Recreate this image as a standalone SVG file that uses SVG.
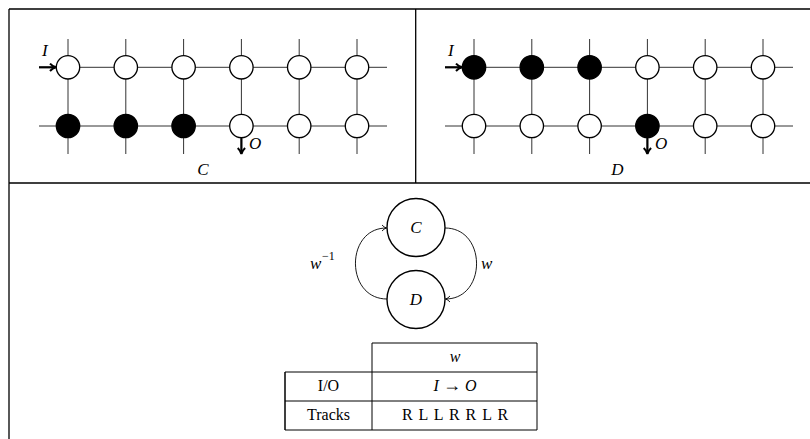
<svg xmlns="http://www.w3.org/2000/svg" width="810" height="439" viewBox="0 0 810 439">
<style>
.frame{stroke:#000;stroke-width:1.3;fill:none}
.grid{stroke:#333;stroke-width:1;fill:none}
.e{fill:#fff;stroke:#000;stroke-width:1.3}
.f{fill:#000;stroke:#000;stroke-width:1.3}
.arr{stroke:#000;stroke-width:2.2;fill:none}
.m{font-family:"Liberation Serif","DejaVu Serif",serif;font-style:italic;font-size:17px;fill:#000}
.t{font-family:"Liberation Serif","DejaVu Serif",serif;font-size:16px;fill:#000}
.big{fill:#fff;stroke:#000;stroke-width:1.4}
.edge{stroke:#000;stroke-width:0.9;fill:none}
</style>
<defs>
<marker id="ah" markerWidth="9" markerHeight="9" refX="6.5" refY="4.5" orient="auto" markerUnits="userSpaceOnUse">
<path d="M1,0.8 Q3.5,3.6 7,4.5 Q3.5,5.4 1,8.2" fill="none" stroke="#000" stroke-width="2"/>
</marker>
<marker id="sh" markerWidth="8" markerHeight="8" refX="6" refY="4" orient="auto" markerUnits="userSpaceOnUse">
<path d="M1.5,1 Q3.5,3.3 6,4 Q3.5,4.7 1.5,7" fill="none" stroke="#000" stroke-width="0.9"/>
</marker>
<g id="gridlines">
<path class="grid" d="M39,67.3H387M39,126H387M68,39V154M125.8,39V154M183.6,39V154M241.4,39V154M299.2,39V154M357,39V154"/>
</g>
</defs>
<g id="frame">
<path class="frame" d="M9,9H810M9,9V439M9,183H810M415.7,9V183"/>
</g>
<g id="panelC">
<use href="#gridlines"/>
<circle class="e" cx="68" cy="67.3" r="11.7"/>
<circle class="e" cx="125.8" cy="67.3" r="11.7"/>
<circle class="e" cx="183.6" cy="67.3" r="11.7"/>
<circle class="e" cx="241.4" cy="67.3" r="11.7"/>
<circle class="e" cx="299.2" cy="67.3" r="11.7"/>
<circle class="e" cx="357" cy="67.3" r="11.7"/>
<circle class="f" cx="68" cy="126" r="11.7"/>
<circle class="f" cx="125.8" cy="126" r="11.7"/>
<circle class="f" cx="183.6" cy="126" r="11.7"/>
<circle class="e" cx="241.4" cy="126" r="11.7"/>
<circle class="e" cx="299.2" cy="126" r="11.7"/>
<circle class="e" cx="357" cy="126" r="11.7"/>
<path class="arr" d="M39,67.3H55.5" marker-end="url(#ah)"/>
<text class="m" x="42" y="56">I</text>
<path class="arr" d="M241.4,138V153.5" marker-end="url(#ah)"/>
<text class="m" x="249" y="149">O</text>
<text class="m" x="203" y="175" text-anchor="middle">C</text>
</g>
<g id="panelD">
<use href="#gridlines" x="406"/>
<circle class="f" cx="474" cy="67.3" r="11.7"/>
<circle class="f" cx="531.8" cy="67.3" r="11.7"/>
<circle class="f" cx="589.6" cy="67.3" r="11.7"/>
<circle class="e" cx="647.4" cy="67.3" r="11.7"/>
<circle class="e" cx="705.2" cy="67.3" r="11.7"/>
<circle class="e" cx="763" cy="67.3" r="11.7"/>
<circle class="e" cx="474" cy="126" r="11.7"/>
<circle class="e" cx="531.8" cy="126" r="11.7"/>
<circle class="e" cx="589.6" cy="126" r="11.7"/>
<circle class="f" cx="647.4" cy="126" r="11.7"/>
<circle class="e" cx="705.2" cy="126" r="11.7"/>
<circle class="e" cx="763" cy="126" r="11.7"/>
<path class="arr" d="M445,67.3H461.5" marker-end="url(#ah)"/>
<text class="m" x="448" y="56">I</text>
<path class="arr" d="M647.4,138V153.5" marker-end="url(#ah)"/>
<text class="m" x="655" y="149">O</text>
<text class="m" x="617.5" y="175" text-anchor="middle">D</text>
</g>
<g id="connectors">
<path class="edge" d="M387,299 C345,299 345,228 386.5,228" marker-end="url(#sh)"/>
<path class="edge" d="M445,228 C487,228 487,299 445.5,299" marker-end="url(#sh)"/>
<text class="m" x="310" y="269">w</text>
<text class="m" x="322" y="260" style="font-size:12px;font-style:normal">−1</text>
<text class="m" x="481" y="269">w</text>
</g>
<g id="nodeC">
<circle class="big" cx="416" cy="227.5" r="29"/>
<text class="m" x="416" y="233" text-anchor="middle">C</text>
</g>
<g id="nodeD">
<circle class="big" cx="416" cy="299.5" r="29"/>
<text class="m" x="416" y="305" text-anchor="middle">D</text>
</g>
<g id="table">
<path class="frame" style="stroke-width:1" d="M372,343H537V430H285V372H537M285,401H537M372,343V430M285,372V430"/>
<text class="m" x="455" y="362" text-anchor="middle" style="font-size:16px">w</text>
<text class="t" x="328.5" y="391" text-anchor="middle">I/O</text>
<text class="m" x="455" y="391" text-anchor="middle" style="font-size:16px">I <tspan style="font-style:normal;font-size:18px">→</tspan> O</text>
<text class="t" x="328.5" y="420" text-anchor="middle">Tracks</text>
<text class="t" x="455" y="420" text-anchor="middle" style="word-spacing:2px">R L L R R L R</text>
</g>
</svg>
